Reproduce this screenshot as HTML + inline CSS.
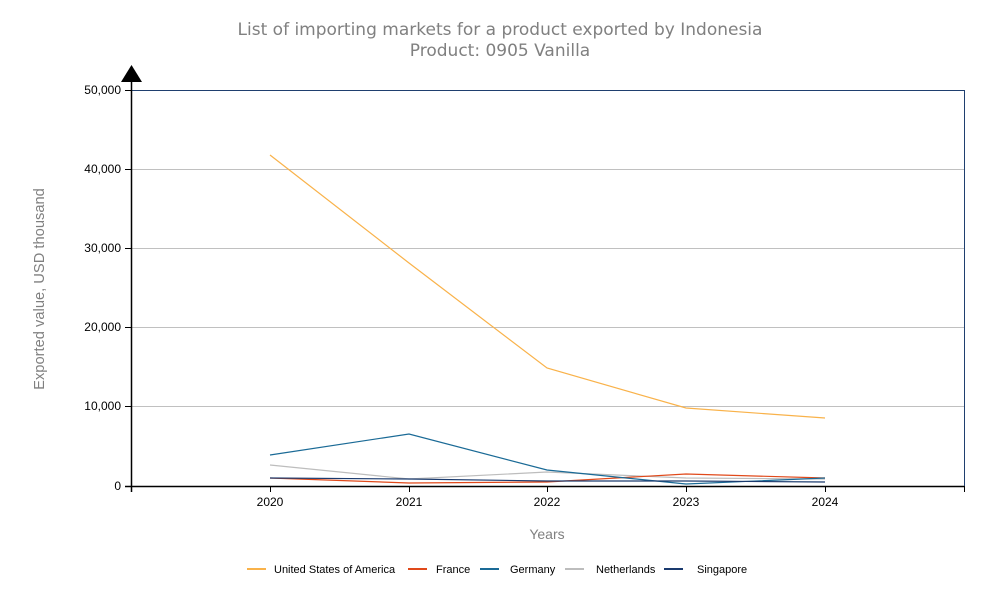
<!DOCTYPE html>
<html><head><meta charset="utf-8"><style>
body{margin:0;background:#fff;}
svg{display:block;font-family:"Liberation Sans",Arial,sans-serif;}
</style></head><body>
<svg width="1000" height="600" viewBox="0 0 1000 600">
<text x="500" y="35" text-anchor="middle" font-size="17" fill="#808080" font-family="DejaVu Sans, sans-serif">List of importing markets for a product exported by Indonesia</text>
<text x="500" y="56" text-anchor="middle" font-size="17" fill="#808080" font-family="DejaVu Sans, sans-serif">Product: 0905 Vanilla</text>
<g stroke="#c0c0c0" stroke-width="1">
<line x1="131" y1="169.5" x2="964" y2="169.5"/>
<line x1="131" y1="248.5" x2="964" y2="248.5"/>
<line x1="131" y1="327.5" x2="964" y2="327.5"/>
<line x1="131" y1="406.5" x2="964" y2="406.5"/>
</g>
<polyline points="131,90.5 964.5,90.5 964.5,486" fill="none" stroke="#1f3f6f" stroke-width="1"/>
<line x1="131.5" y1="80" x2="131.5" y2="492" stroke="#000" stroke-width="1.5"/>
<polygon points="131.5,65 121,82 142,82" fill="#000"/>
<line x1="125" y1="486.5" x2="964" y2="486.5" stroke="#000" stroke-width="1.5"/>
<g stroke="#000" stroke-width="1">
<line x1="125" y1="90.5" x2="131" y2="90.5"/><line x1="125" y1="169.5" x2="131" y2="169.5"/><line x1="125" y1="248.5" x2="131" y2="248.5"/><line x1="125" y1="327.5" x2="131" y2="327.5"/><line x1="125" y1="406.5" x2="131" y2="406.5"/>
<line x1="270.5" y1="486" x2="270.5" y2="492"/><line x1="409.5" y1="486" x2="409.5" y2="492"/><line x1="547.5" y1="486" x2="547.5" y2="492"/><line x1="686.5" y1="486" x2="686.5" y2="492"/><line x1="825.5" y1="486" x2="825.5" y2="492"/><line x1="964.5" y1="486" x2="964.5" y2="492"/>
</g>
<g font-size="12" fill="#000" text-anchor="end">
<text x="121" y="94">50,000</text><text x="121" y="173">40,000</text><text x="121" y="252">30,000</text><text x="121" y="331">20,000</text><text x="121" y="410">10,000</text><text x="121" y="490">0</text>
</g>
<g font-size="12" fill="#000" text-anchor="middle">
<text x="270" y="506">2020</text><text x="409" y="506">2021</text><text x="547" y="506">2022</text><text x="686" y="506">2023</text><text x="825" y="506">2024</text>
</g>
<text x="547" y="539" text-anchor="middle" font-size="14" fill="#808080">Years</text>
<text transform="translate(44,289) rotate(-90)" text-anchor="middle" font-size="14.7" fill="#808080">Exported value, USD thousand</text>
<g fill="none" stroke-width="1.2">
<polyline stroke="#bdbdbd" points="270,465 409,479 547,472 686,478 825,479"/>
<polyline stroke="#e0491a" points="270,478 409,483 547,482 686,474 825,478"/>
<polyline stroke="#1a6a96" points="270,455 409,434 547,470 686,484 825,478"/>
<polyline stroke="#1a3a6e" points="270,478 409,479 547,481 686,481 825,482"/>
<polyline stroke="#f9b24a" points="270,155 409,263 547,368 686,408 825,418"/>
</g>
<g stroke-width="2">
<line x1="247" y1="569" x2="266" y2="569" stroke="#f9b24a"/>
<line x1="408" y1="569" x2="427" y2="569" stroke="#e0491a"/>
<line x1="480" y1="569" x2="499" y2="569" stroke="#1a6a96"/>
<line x1="565" y1="569" x2="584" y2="569" stroke="#bdbdbd"/>
<line x1="664" y1="569" x2="683" y2="569" stroke="#1a3a6e"/>
</g>
<g font-size="11" fill="#000">
<text x="274" y="573">United States of America</text>
<text x="436" y="573">France</text>
<text x="510" y="573">Germany</text>
<text x="596" y="573">Netherlands</text>
<text x="697" y="573">Singapore</text>
</g>
</svg>
</body></html>
